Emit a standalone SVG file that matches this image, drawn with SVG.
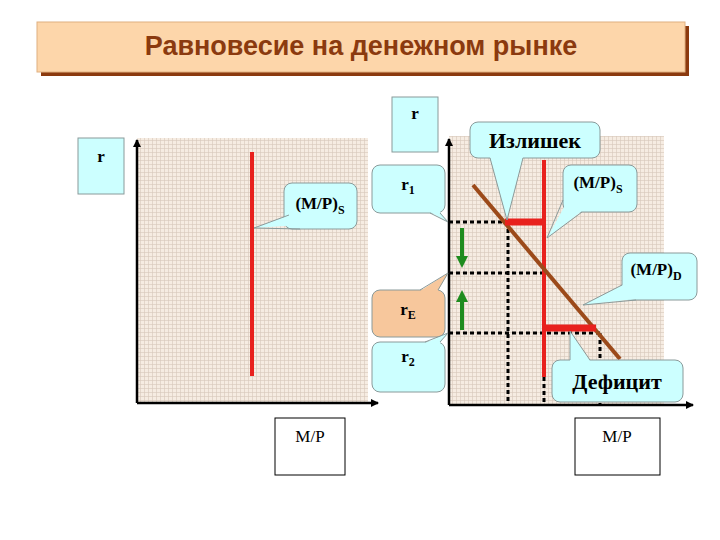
<svg xmlns="http://www.w3.org/2000/svg" width="720" height="540" viewBox="0 0 720 540">
<defs>
<pattern id="grid" width="4" height="4" patternUnits="userSpaceOnUse">
<rect width="4" height="4" fill="#f6ece2"/>
<path d="M0 0.5H4M0.5 0V4" stroke="#d6c8ba" stroke-width="0.6"/>
</pattern>
<marker id="ax" markerWidth="8" markerHeight="8" refX="7" refY="4" orient="auto" markerUnits="userSpaceOnUse"><path d="M0 0L8 4L0 8Z" fill="#000"/></marker>
<marker id="gr" markerWidth="12" markerHeight="12" refX="6" refY="6" orient="auto" markerUnits="userSpaceOnUse"><path d="M0 0L12 6L0 12Z" fill="#1e8c1e"/></marker>
<style>
.cb{fill:#ccffff;stroke:#8a9a9a;stroke-width:1}
.ct{fill:#ccffff;stroke:none}
.ce{fill:none;stroke:#8a9a9a;stroke-width:1}
.t{font-family:"Liberation Serif",serif;font-weight:bold;font-size:17px;fill:#000}
.n{font-family:"Liberation Serif",serif;font-weight:normal;font-size:17px;fill:#000}
.big{font-size:22px}
.dot{stroke:#000;stroke-width:3;stroke-dasharray:4 3;fill:none}
.axis{stroke:#000;stroke-width:2.5;fill:none}
</style>
</defs>
<rect width="720" height="540" fill="#fff"/>
<g id="title">
<rect x="41" y="26" width="648" height="50" fill="#8b3a0f"/>
<rect x="37" y="22" width="648" height="50" fill="#fdd6aa" stroke="#e0b080"/>
<text x="361" y="55" text-anchor="middle" font-family="Liberation Sans,sans-serif" font-weight="bold" font-size="27" fill="#8b3a0f">Равновесие на денежном рынке</text>
</g>
<g id="left-panel">
<rect x="137" y="138" width="231" height="264" fill="url(#grid)"/>
<path class="axis" d="M137 403V140" marker-end="url(#ax)"/>
<path class="axis" d="M137 403H378" marker-end="url(#ax)"/>
<line x1="252" y1="152" x2="252" y2="376" stroke="#e8211d" stroke-width="4"/>
</g>
<g id="right-panel">
<rect x="449" y="136" width="215" height="269" fill="url(#grid)"/>
<g id="connectors">
<path class="dot" d="M449 222H506M449 273H544M449 333H600M508 222V405M544 377V405M600 333V405"/>
<line x1="544" y1="160" x2="544" y2="377" stroke="#e8211d" stroke-width="4"/>
<line x1="473" y1="185" x2="620" y2="359" stroke="#9c4a1a" stroke-width="4"/>
<line x1="505" y1="222" x2="544" y2="222" stroke="#e8211d" stroke-width="7"/>
<line x1="544" y1="328" x2="596" y2="328" stroke="#e8211d" stroke-width="7"/>
<line x1="462" y1="228" x2="462" y2="262" stroke="#1e8c1e" stroke-width="4" marker-end="url(#gr)"/>
<line x1="462" y1="330" x2="462" y2="296" stroke="#1e8c1e" stroke-width="4" marker-end="url(#gr)"/>
</g>
<path class="axis" d="M449 405V139" marker-end="url(#ax)"/>
<path class="axis" d="M449 405H693" marker-end="url(#ax)"/>
</g>
<g id="r-left"><rect x="78" y="138" width="46" height="56" class="cb"/><text class="t" x="101" y="162" text-anchor="middle">r</text></g>
<g id="r-right"><rect x="392" y="97" width="46" height="55" class="cb"/><text class="t" x="415" y="119" text-anchor="middle">r</text></g>
<g id="ms-left">
<rect x="284" y="183" width="73" height="46" rx="8" class="cb"/>
<polygon class="ct" points="290,215 254,228 300,225"/><polyline class="ce" points="289,215 254,228 300,229"/>
<text class="t" x="320" y="209" text-anchor="middle">(M/P)<tspan font-size="12" dy="5">S</tspan></text>
</g>
<g id="izl">
<rect x="470" y="122" width="130" height="36" rx="8" class="cb"/>
<polygon class="ct" points="490,157 507,220 523,157"/><polyline class="ce" points="490,158 507,220 523,158"/>
<text class="t big" x="535" y="148" text-anchor="middle">Излишек</text>
</g>
<g id="r1">
<rect x="372" y="165" width="73" height="48" rx="8" class="cb"/>
<polygon class="ct" points="430,212 448,222 440,212"/><polyline class="ce" points="430,213 448,222 440,213"/>
<text class="t" x="408" y="190" text-anchor="middle">r<tspan font-size="12" dy="4">1</tspan></text>
</g>
<g id="rE">
<rect x="372" y="290" width="73" height="47" rx="8" fill="#f7c79c" stroke="#8a9a9a"/>
<polygon fill="#f7c79c" points="420,291 448,273 438,291"/><polyline class="ce" points="420,290 448,273 438,290"/>
<text class="t" x="408" y="315" text-anchor="middle">r<tspan font-size="12" dy="4">E</tspan></text>
</g>
<g id="r2">
<rect x="372" y="342" width="73" height="50" rx="8" class="cb"/>
<polygon class="ct" points="425,343 448,333 440,343"/><polyline class="ce" points="425,342 448,333 440,342"/>
<text class="t" x="408" y="362" text-anchor="middle">r<tspan font-size="12" dy="4">2</tspan></text>
</g>
<g id="ms-right">
<rect x="563" y="165" width="74" height="47" rx="8" class="cb"/>
<polygon class="ct" points="568,200 547,238 582,211"/><polyline class="ce" points="563,200 547,238 582,212"/>
<text class="t" x="598" y="188" text-anchor="middle">(M/P)<tspan font-size="12" dy="5">S</tspan></text>
</g>
<g id="md">
<rect x="622" y="253" width="75" height="47" rx="8" class="cb"/>
<polygon class="ct" points="623,285 583,305 636,299"/><polyline class="ce" points="622,285 583,305 636,300"/>
<text class="t" x="656" y="275" text-anchor="middle">(M/P)<tspan font-size="12" dy="5">D</tspan></text>
</g>
<g id="def">
<rect x="552" y="360" width="131" height="42" rx="8" class="cb"/>
<polygon class="ct" points="570,361 570,331 590,361"/><polyline class="ce" points="570,360 570,331 590,360"/>
<text class="t big" x="617" y="389" text-anchor="middle">Дефицит</text>
</g>
<g id="mp-left"><rect x="275" y="418" width="70" height="57" fill="#fff" stroke="#000"/><text class="n" x="310" y="442" text-anchor="middle">M/P</text></g>
<g id="mp-right"><rect x="575" y="418" width="85" height="57" fill="#fff" stroke="#000"/><text class="n" x="617" y="442" text-anchor="middle">M/P</text></g>
</svg>
